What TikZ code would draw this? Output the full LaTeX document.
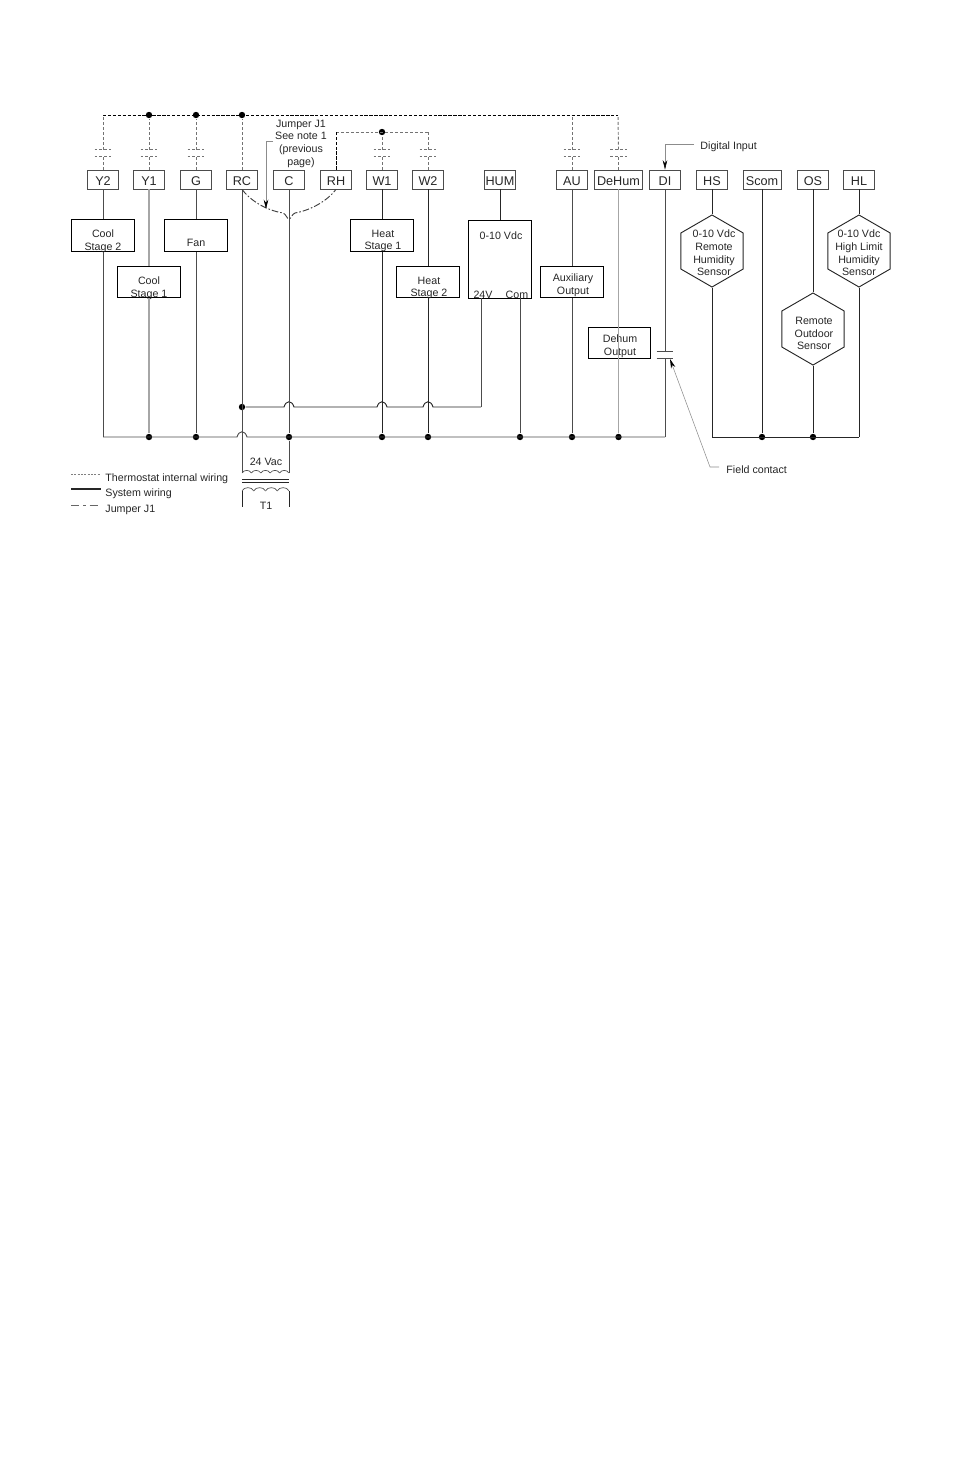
\documentclass[tikz,border=0pt]{standalone}
\usepackage{fontspec}
\setmainfont{Liberation Sans}
\usetikzlibrary{shapes.geometric, arrows.meta}

\newcommand{\hopup}[2]{-- (#1-5,#2) .. controls (#1-3,#2-7) and (#1+3,#2-7) .. (#1+5,#2)}

\begin{document}
\begin{tikzpicture}[x=0.75pt, y=-0.75pt, line width=0.7pt,
    term/.style={draw=black!70, minimum width=23.5pt, minimum height=14.2pt, inner sep=0pt, text height=9pt, text depth=0pt, font=\fontsize{9.5}{11}\selectfont, text=black!85},
    unit/.style={draw=black, minimum width=47pt, minimum height=23.7pt, inner sep=0pt},
    hexa/.style={draw=black!85, regular polygon, regular polygon sides=6, shape border rotate=30, minimum size=54pt, inner sep=0pt},
    txt/.style={align=center, inner sep=0pt, yshift=-1.1pt, font=\fontsize{8}{9.5}\selectfont, text=black!85},
    wire/.style={draw=black!70},
    lightwire/.style={draw=black!35, line width=0.9pt},
    sysline/.style={draw=black!85},
    internal/.style={draw=black!55, dashed, dash pattern=on 2.2pt off 1.5pt},
    bus/.style={draw=black, dashed, dash pattern=on 2.5pt off 1.2pt, line width=0.7pt},
    jumper/.style={draw=black!75, dash pattern=on 5pt off 1.5pt on 1.2pt off 1.5pt},
    leader/.style={draw=black!45, line width=0.4pt},
    dot/.style={circle, fill=black, inner sep=0pt, minimum size=4.8pt},
    contact/.style={inner sep=0pt, minimum width=12pt, minimum height=4.5pt}]
    \useasboundingbox (0,0) rectangle (954,1475);

    % terminals
    \node[term] (y2) at (103,179.5) {Y2};
    \node[term] (y1) at (149,179.5) {Y1};
    \node[term] (g) at (196,179.5) {G};
    \node[term] (rc) at (242,179.5) {RC};
    \node[term] (c) at (289,179.5) {C};
    \node[term] (rh) at (336,179.5) {RH};
    \node[term] (w1) at (382,179.5) {W1};
    \node[term] (w2) at (428,179.5) {W2};
    \node[term] (hum) at (500,179.5) {HUM};
    \node[term] (au) at (572,179.5) {AU};
    \node[term, minimum width=36.5pt] (dehum) at (618.5,179.5) {DeHum};
    \node[term] (di) at (665,179.5) {DI};
    \node[term] (hs) at (712,179.5) {HS};
    \node[term, minimum width=28.5pt] (scom) at (762,179.5) {Scom};
    \node[term] (os) at (813,179.5) {OS};
    \node[term] (hl) at (859,179.5) {HL};

    % loads
    \node[unit] (cool2) at (103,235.5) {};
    \node[txt] (cool2t) at (103,239.5) {Cool\\Stage 2};
    \node[unit] (cool1) at (149,282) {};
    \node[txt] (cool1t) at (149,286.5) {Cool\\Stage 1};
    \node[unit] (fan) at (196,235.5) {};
    \node[txt] (fant) at (196,241) {Fan};
    \node[unit] (heat1) at (382,235.5) {};
    \node[txt] (heat1t) at (383,239.5) {Heat\\Stage 1};
    \node[unit] (heat2) at (428,282) {};
    \node[txt] (heat2t) at (429,286.5) {Heat\\Stage 2};
    \node[unit, minimum height=58.5pt] (humbox) at (500,259) {};
    \node[txt] (humt) at (501,234) {0-10 Vdc};
    \node[txt] (hum24) at (483,293) {24V};
    \node[txt] (humcom) at (517,293) {Com};
    \node[unit] (aux) at (572,282) {};
    \node[txt] (auxt) at (573,283.5) {Auxiliary\\Output};
    \node[unit] (dehout) at (619.5,343) {};
    \node[txt] (dehoutt) at (620,344.5) {Dehum\\Output};

    % sensors
    \node[hexa] (hshex) at (712,251) {};
    \node[txt] (hst) at (714,251.5) {0-10 Vdc\\Remote\\Humidity\\Sensor};
    \node[hexa] (oshex) at (813,329) {};
    \node[txt] (ost) at (814,332) {Remote\\Outdoor\\Sensor};
    \node[hexa] (hlhex) at (859,251) {};
    \node[txt] (hlt) at (859,251.5) {0-10 Vdc\\High Limit\\Humidity\\Sensor};

    % top bus
    \coordinate (ty2) at (103,115);
    \node[dot] (ty1) at (149,115) {};
    \node[dot] (tg) at (196,115) {};
    \node[dot] (trc) at (242,115) {};
    \coordinate (tau) at (572,115);
    \coordinate (tdehum) at (618,115);
    \draw[bus] (ty2) -- (tdehum);
    \coordinate (trh) at (336,132);
    \node[dot] (tw1) at (382,132) {};
    \coordinate (tw2) at (428,132);
    \draw[internal] (trh) -- (tw2);
    \draw[bus, line width=0.6pt] (rh.north) -- (trh);
    \draw[internal] (rc.north) -- (trc);

    % thermostat contacts
    \foreach \name/\top in {y2/ty2, y1/ty1, g/tg, w1/tw1, w2/tw2, au/tau, dehum/tdehum} {
        \node[contact] (c\name) at (\name.north |- 0,153) {};
        \draw[internal] (c\name.north west) -- (c\name.north east);
        \draw[internal] (c\name.south west) -- (c\name.south east);
        \draw[internal] (\name.north) -- (c\name.south);
        \draw[internal] (c\name.north) -- (\top);
    }

    % bottom bus
    \coordinate (by2) at (103,437);
    \node[dot] (by1) at (149,437) {};
    \node[dot] (bg) at (196,437) {};
    \node[dot] (bc) at (289,437) {};
    \node[dot] (bw1) at (382,437) {};
    \node[dot] (bw2) at (428,437) {};
    \node[dot] (bcom) at (520,437) {};
    \node[dot] (bau) at (572,437) {};
    \node[dot] (bdehum) at (618.5,437) {};
    \coordinate (bdi) at (665,437);
    \draw[wire] (by2) \hopup{242}{437} -- (bdi);
    \coordinate (bhs) at (712,437);
    \node[dot] (bscom) at (762,437) {};
    \node[dot] (bos) at (813,437) {};
    \coordinate (bhl) at (859,437);
    \draw[sysline] (bhs) -- (bhl);

    % 24 V feed
    \node[dot] (feed) at (242,407) {};
    \coordinate (f24) at (481,407);
    \draw[sysline] (feed) \hopup{289}{407} \hopup{382}{407} \hopup{428}{407} -- (f24);

    % load wires
    \draw[wire] (y2.south) -- (cool2.north);
    \draw[wire] (cool2.south) -- (by2);
    \draw[lightwire] (y1.south) -- (cool1.north);
    \draw[lightwire] (cool1.south) -- (by1);
    \draw[wire] (g.south) -- (fan.north);
    \draw[wire] (fan.south) -- (bg);
    \draw[wire] (c.south) -- (bc);
    \draw[sysline] (w1.south) -- (heat1.north);
    \draw[sysline] (heat1.south) -- (bw1);
    \draw[sysline] (w2.south) -- (heat2.north);
    \draw[sysline] (heat2.south) -- (bw2);
    \draw[sysline] (hum.south) -- (humbox.north);
    \draw[wire] (481,298) -- (f24);
    \draw[wire] (bcom |- humbox.south) -- (bcom);
    \draw[wire] (au.south) -- (aux.north);
    \draw[wire] (aux.south) -- (bau);
    \draw[lightwire] (dehum.south) -- (bdehum);
    \draw[sysline] (hs.south) -- (hshex.north);
    \draw[sysline] (hshex.south) -- (bhs);
    \draw[sysline] (scom.south) -- (bscom);
    \draw[sysline] (os.south) -- (oshex.north);
    \draw[sysline] (oshex.south) -- (bos);
    \draw[sysline] (hl.south) -- (hlhex.north);
    \draw[sysline] (hlhex.south) -- (bhl);

    % field contact on DI
    \node[contact] (cdi) at (665,355) {};
    \draw[wire] (cdi.north west) -- (cdi.north east);
    \draw[wire] (cdi.south west) -- (cdi.south east);
    \draw[wire] (di.south) -- (cdi.north);
    \draw[wire] (cdi.south) -- (bdi);

    % RC and C down to the transformer
    \coordinate (xrc) at (242,473);
    \coordinate (xc) at (289,473);
    \draw[wire] (rc.south) -- (xrc);
    \draw[wire] (bc) -- (xc);
    \foreach \i in {0,...,4} {
        \draw[wire, line width=0.5pt] (242+\i*9.4,473) .. controls (244+\i*9.4,469.5) and (249.4+\i*9.4,469.5) .. (251.4+\i*9.4,473);
    }
    \draw[sysline] (242,479) -- (289,479);
    \draw[sysline] (242,482) -- (289,482);
    \foreach \i in {0,...,3} {
        \draw[wire, line width=0.5pt] (242+\i*11.75,491) .. controls (244+\i*11.75,486.5) and (251.75+\i*11.75,486.5) .. (253.75+\i*11.75,491);
    }
    \coordinate (yrc) at (242,491);
    \coordinate (yc) at (289,491);
    \draw[sysline] (yrc) -- (242,507);
    \draw[sysline] (yc) -- (289,507);
    \node[txt] (vac) at (266,460.5) {24 Vac};
    \node[txt] (t1) at (266,504) {T1};

    % jumper
    \draw[jumper] (rc.south) .. controls (250,200) and (265,210) .. (283,213)
        .. controls (286,214) and (287,219) .. (289,219)
        .. controls (291,219) and (292,214) .. (295,213)
        .. controls (312,210) and (328,200) .. (rh.south);
    \node[txt] (jumpert) at (301,142) {Jumper J1\\See note 1\\(previous\\page)};
    \coordinate (jtip) at (266,209);
    \coordinate (jbend) at (266,141);
    \coordinate (jstart) at (273,141);
    \draw[leader, -{Stealth[length=7pt, width=3.4pt, color=black]}] (jstart) -- (jbend) -- (jtip);

    % digital input and field contact labels
    \node[txt, anchor=west] (digt) at (700,145) {Digital Input};
    \coordinate (dbend) at (665,144);
    \coordinate (dstart) at (694,144);
    \draw[leader, -{Stealth[length=7pt, width=3.4pt, color=black]}] (dstart) -- (dbend) -- (di.north);
    \node[txt, anchor=west] (fieldt) at (726,468) {Field contact};
    \coordinate (fbend) at (710,467);
    \coordinate (fstart) at (719,467);
    \coordinate (ftip) at (670,359);
    \draw[leader, -{Stealth[length=7pt, width=3.4pt, color=black]}] (fstart) -- (fbend) -- (ftip);

    % legend
    \coordinate (l1a) at (71,474);
    \coordinate (l1b) at (101,474);
    \coordinate (l2a) at (71,489);
    \coordinate (l2b) at (101,489);
    \coordinate (l3a) at (71,505);
    \coordinate (l3b) at (101,505);
    \draw[draw=black!50, line width=0.4pt, dash pattern=on 1.5pt off 1pt] (l1a) -- (l1b);
    \draw[sysline, line width=0.8pt] (l2a) -- (l2b);
    \draw[draw=black!60, dash pattern=on 6pt off 3pt on 2pt off 3pt] (l3a) -- (l3b);
    \node[txt, anchor=west] (leg1) at (105,477) {Thermostat internal wiring};
    \node[txt, anchor=west] (leg2) at (105,492.5) {System wiring};
    \node[txt, anchor=west] (leg3) at (105,508) {Jumper J1};
\end{tikzpicture}
\end{document}
